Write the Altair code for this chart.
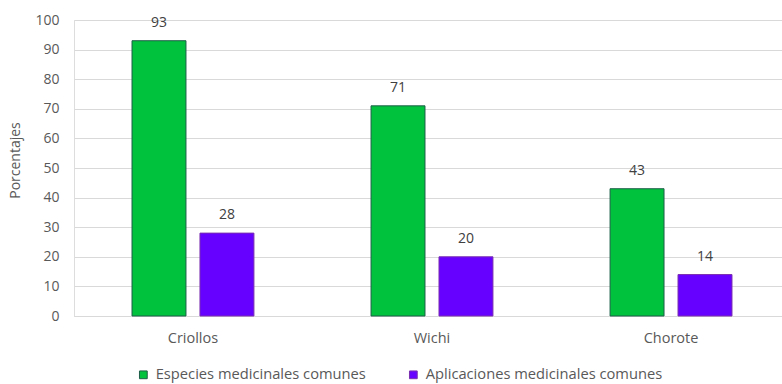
import altair as alt
import pandas as pd

groups = ["Criollos", "Wichi", "Chorote"]
series = ["Especies medicinales comunes", "Aplicaciones medicinales comunes"]
especies = [93, 71, 43]
aplicaciones = [28, 20, 14]
fills = ["#00c23c", "#6600ff"]
strokes = ["#1d5e48", "#7a2fb0"]

rows = []
for g, e, a in zip(groups, especies, aplicaciones):
    rows.append({"grupo": g, "serie": series[0], "valor": e})
    rows.append({"grupo": g, "serie": series[1], "valor": a})
df = pd.DataFrame(rows)

FONT = "Open Sans"
GRAY = "#595959"

x = alt.X("grupo:N", sort=groups, title=None,
          scale=alt.Scale(paddingInner=0.49, paddingOuter=0.226, align=0.537),
          axis=alt.Axis(labelAngle=0, labelFont=FONT, labelFontSize=14.5, labelColor=GRAY,
                        ticks=False, domain=True, domainColor="#d9d9d9", labelPadding=15))
xoff = alt.XOffset("serie:N", sort=series, scale=alt.Scale(paddingInner=0.206, paddingOuter=0))
y = alt.Y("valor:Q", title="Porcentajes",
          scale=alt.Scale(domain=[0, 100]),
          axis=alt.Axis(values=list(range(0, 101, 10)), labelFont=FONT, labelFontSize=14,
                        labelColor=GRAY, ticks=False, domain=False, gridColor="#d9d9d9",
                        labelPadding=15, titleFont=FONT, titleFontSize=14, titleColor=GRAY,
                        titleFontWeight="normal", titlePadding=12, titleY=140))

bars = alt.Chart(df).mark_bar(strokeWidth=1).encode(
    x=x, xOffset=xoff, y=y,
    fill=alt.Fill("serie:N", sort=series, scale=alt.Scale(domain=series, range=fills),
                  legend=alt.Legend(title=None, orient="none", legendX=62, legendY=347,
                                    direction="horizontal", symbolType="square", symbolSize=60,
                                    symbolStrokeWidth=1, labelFont=FONT, labelFontSize=14.7,
                                    labelColor=GRAY, columnPadding=40, symbolOffset=0,
                                    labelOffset=5, labelLimit=0)),
    stroke=alt.Stroke("serie:N", sort=series, scale=alt.Scale(domain=series, range=strokes),
                      legend=None),
)

labels = alt.Chart(df).mark_text(baseline="bottom", dy=-11, font=FONT, fontSize=14, color="#404040").encode(
    x=x, xOffset=xoff, y=y, text=alt.Text("valor:Q"),
)

chart = (bars + labels).properties(
    width=708, height=296,
    autosize=alt.AutoSizeParams(type="none"),
    padding={"left": 74, "top": 20, "right": 0, "bottom": 68},
).configure_view(stroke=None).configure(background="white")

chart.save("out.html", embed_options={"renderer": "svg", "actions": False})
